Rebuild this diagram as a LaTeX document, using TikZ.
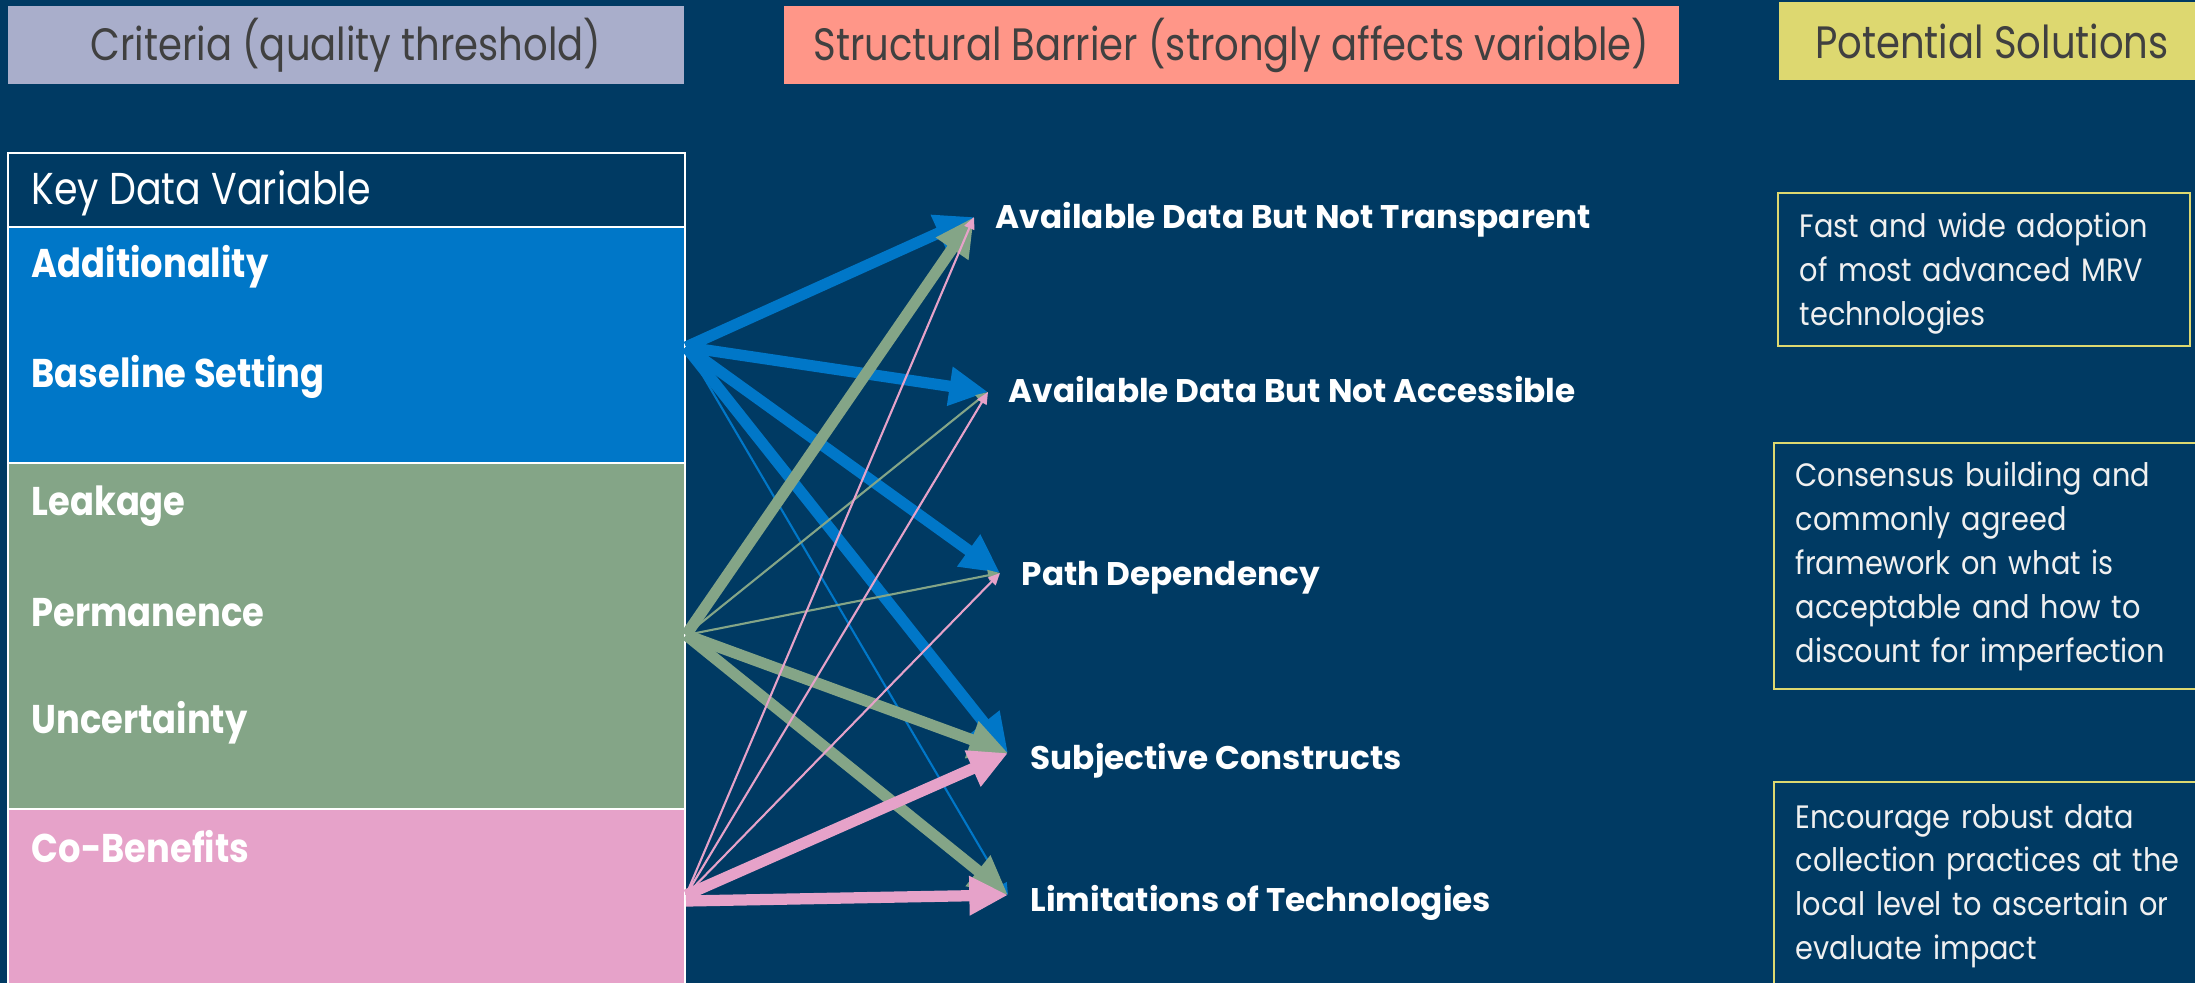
\documentclass[tikz,border=0pt]{standalone}
\usepackage{fontspec}
\setmainfont{Poppins}
\newfontfamily\slimfont{Poppins}[FakeStretch=0.85]
\newfontfamily\varfont{Poppins}[FakeStretch=0.88]
\newfontfamily\solfont{Poppins}[FakeStretch=0.89]
\usetikzlibrary{arrows.meta}

\definecolor{navy}{HTML}{003A63}
\definecolor{lavender}{HTML}{A9AECB}
\definecolor{salmon}{HTML}{FF9688}
\definecolor{mustard}{HTML}{DDD870}
\definecolor{headtext}{HTML}{404040}
\definecolor{varblue}{HTML}{0077C8}
\definecolor{vargreen}{HTML}{84A587}
\definecolor{varpink}{HTML}{E6A2C9}

\begin{document}
\begin{tikzpicture}
  [ x=0.01cm, y=-0.01cm,
    headbox/.style={inner sep=0pt, minimum height=0.78cm, text=headtext,
      font=\slimfont\fontsize{12.9}{15}\selectfont},
    varname/.style={anchor=base west, inner sep=0pt, text=white,
      font=\varfont\bfseries\fontsize{11.4}{14}\selectfont},
    barrier/.style={anchor=base west, inner sep=0pt, text=white,
      font=\bfseries\fontsize{9.3}{12}\selectfont},
    solution/.style={anchor=base west, inner sep=0pt, align=left, text width=5cm,
      text=white!94!black, font=\solfont\fontsize{9.2}{12.5}\selectfont},
    solframe/.style={draw=mustard, line width=0.6pt},
    rowbox/.style={draw=white, line width=0.6pt},
    link/.style={-{Triangle[length=3.4pt,width=3pt]}, line width=0.6pt},
    strong/.style={-{Triangle[length=11pt,width=10.5pt]}, line width=3.2pt},
  ]
  \useasboundingbox (0,0) rectangle (2195,983);
  \clip (0,0) rectangle (2195,983);
  \fill[navy] (0,0) rectangle (2195,983);

  % column headers
  \node (crit) [headbox, fill=lavender, minimum width=6.76cm] at (346,45) {Criteria (quality threshold)};
  \node (struct) [headbox, fill=salmon, minimum width=8.95cm] at (1231.5,45) {Structural Barrier (strongly affects variable)};
  \node (potsol) [headbox, fill=mustard, minimum width=4.26cm] at (1992,41) {Potential Solutions};

  % key data variables
  \draw[rowbox, fill=navy] (8,153) rectangle (685,227);
  \draw[rowbox, fill=varblue] (8,227) rectangle (685,463);
  \draw[rowbox, fill=vargreen] (8,463) rectangle (685,809);
  \draw[rowbox, fill=varpink] (8,809) rectangle (685,995);

  \node (kdv) [varname, font=\slimfont\fontsize{12.7}{15}\selectfont] at (31,205) {Key Data Variable};
  \node (addit) [varname] at (31,278) {Additionality};
  \node (basel) [varname] at (31,388) {Baseline Setting};
  \node (leak) [varname] at (31,516) {Leakage};
  \node (perm) [varname] at (31,627) {Permanence};
  \node (uncert) [varname] at (31,734) {Uncertainty};
  \node (cobene) [varname] at (31,862) {Co-Benefits};

  % structural barriers
  \node (transp) [barrier] at (995,229) {Available Data But Not Transparent};
  \node (access) [barrier] at (1008,403) {Available Data But Not Accessible};
  \node (pathdep) [barrier] at (1021,586) {Path Dependency};
  \node (subj) [barrier] at (1030,769) {Subjective Constructs};
  \node (limits) [barrier] at (1030,911) {Limitations of Technologies};

  \coordinate (srcB) at (686,347);
  \coordinate (srcG) at (686,635);
  \coordinate (srcP) at (686,895);
  \coordinate (srcPlow) at (686,901);
  \coordinate (tgtA) at (974,217);
  \coordinate (tgtB) at (988,392);
  \coordinate (tgtC) at (1000,573);
  \coordinate (tgtD) at (1008,753);
  \coordinate (tgtE) at (1008,895);

  % links
  \draw[strong, varblue] (srcB) -- (tgtA);
  \draw[strong, varblue] (srcB) -- (tgtB);
  \draw[strong, varblue] (srcB) -- (tgtC);
  \draw[strong, varblue] (srcB) -- (tgtD);
  \draw[link, varblue] (srcB) -- (tgtE);

  \draw[strong, vargreen] (srcG) -- (tgtA);
  \draw[link, vargreen] (srcG) -- (tgtB);
  \draw[link, vargreen] (srcG) -- (tgtC);
  \draw[strong, vargreen] (srcG) -- (tgtD);
  \draw[strong, vargreen] (srcG) -- (tgtE);

  \draw[link, varpink] (srcP) -- (tgtA);
  \draw[link, varpink] (srcP) -- (tgtB);
  \draw[link, varpink] (srcP) -- (tgtC);
  \draw[strong, varpink] (srcP) -- (tgtD);
  \draw[strong, varpink] (srcPlow) -- (tgtE);

  % potential solutions
  \draw[solframe] (1778,193) rectangle (2190,346);
  \draw[solframe] (1774,443) rectangle (2210,689);
  \draw[solframe] (1774,782) rectangle (2210,995);

  \node (solmrv) [solution] at (1799,238)
    {Fast and wide adoption\\ of most advanced MRV\\ technologies};
  \node (solcons) [solution] at (1795,487)
    {Consensus building and\\ commonly agreed\\ framework on what is\\ acceptable and how to\\ discount for imperfection};
  \node (soldata) [solution] at (1795,828)
    {Encourage robust data\\ collection practices at the\\ local level to ascertain or\\ evaluate impact};
\end{tikzpicture}
\end{document}
